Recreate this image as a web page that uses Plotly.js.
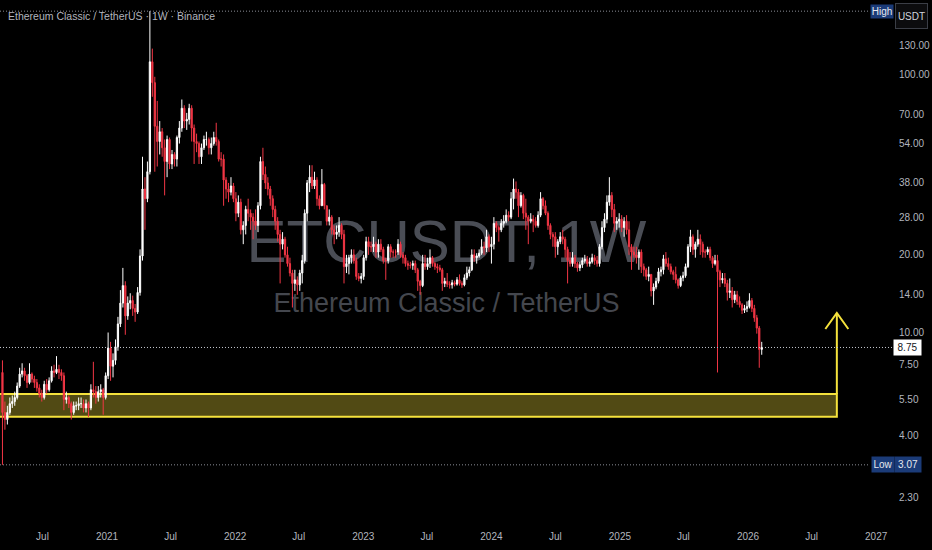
<!DOCTYPE html>
<html>
<head>
<meta charset="utf-8">
<script src="https://cdn.plot.ly/plotly-3.0.1.min.js"></script>
<style>
  html, body { margin: 0; padding: 0; background: #000; }
  #chart { width: 932px; height: 550px; }
</style>
</head>
<body>
<div id="chart"></div>
<script>
// ---- Weekly ETCUSDT candles (Binance), week starts from 2020-03-09 ----
const firstWeek = '2020-03-09';
const firstOpen = 7.0;

const close2020 = [4.9,4.6,4.9,5.3,5.4,5.6,6.2,6.9,7.1,6.8,6.4,6.9,6.6,6.4,6.1,5.8,5.6,6.3,6.0,6.5,7.1,7.0,7.2,7.0,6.8,5.5,5.6,5.3,4.9,5.2,5.2,5.3,5.3,5.1,5.3,5.1,6.0,5.9,5.6,5.9,6.0,5.6,6.8];
const high2020  = [7.8,5.4,5.2,5.6,5.7,5.9,6.4,7.3,7.6,7.3,6.9,7.6,7.0,6.8,6.6,6.3,6.0,6.5,6.6,6.7,7.4,7.5,8.1,7.5,7.2,7.0,5.9,5.7,5.4,5.4,5.4,5.6,5.6,5.5,5.5,5.4,6.3,7.7,6.2,6.2,6.3,6.1,7.0];
const low2020   = [3.07,4.2,4.4,4.8,5.1,5.2,5.5,6.1,6.7,6.5,6.1,6.3,6.4,6.1,5.9,5.6,5.4,5.5,5.8,5.9,6.4,6.7,6.9,6.6,6.5,5.0,5.3,5.1,4.6,4.8,5.0,5.0,5.1,4.9,4.9,4.7,5.0,5.6,5.3,5.4,5.6,4.8,5.5];

const close2021 = [8.7,7.4,7.8,8.8,10.8,13.0,15.2,11.6,13.0,13.3,12.4,12.0,14.3,19.8,36,33,42,112,93,63,55,60,52,46,56,45,49,47,57,62,74,66,67,74,62,55,54,48,52,56,56,52,54,57,55,47,47,39,36,35,37,33];
const high2021  = [10.0,9.2,8.3,9.4,11.5,14.6,17.8,15.8,13.8,14.2,13.9,12.9,15.0,21.0,48,40,46,176,126,98,79,66,62,56,58,57,51,50,58,66,80,76,71,77,76,64,59,55,54,58,60,57,57,60,65,56,50,49,40,38,40,38];
const low2021   = [6.6,6.5,6.7,7.5,8.5,10.5,12.5,9.8,11.2,12.3,11.6,11.0,11.8,13.9,19,25,32,41,82,42,44,49,48,34,40,43,43,44,44,54,60,62,61,64,55,45,50,45,45,51,53,49,49,53,53,46,44,31,33,32,34,32];

const close2022 = [29,32,25,26,30,29,28,27,26,31,46,41,38,36,33,30,27,24,22,23,20,18.5,17,15.5,16,15.3,17,19,29,38,40,37,39,33,31,37.5,31,27,28,25,24,24.5,26,24,18,18.5,19.5,20,19,16.5,16.2,16.5];
const high2022  = [35,34,33,27,31,33,30,29,30,32,48,52,44,40,37,34,31,28,25,24.5,23.5,21.5,19.5,17.5,17.5,16.5,17.5,20,30,39,44.5,44.5,42,40,34,43,38,31,30,28.5,26,26,28,26.5,25,20,20,21,21,19.5,17,17];
const low2022   = [27,28,24,22,24,27,25,23,25,24.5,30,39,36,34,31,28,25,22.5,15.5,21,19.5,18,16.5,12.5,14.5,14,14.5,15.5,18.5,27,35,36,36,31,30,31,30,26,26,24,22,23,23.5,23,15.5,17,16.8,18.5,18.5,16,15.8,15.5];

const close2023 = [19.5,22.5,21.5,21.5,22,20.5,22,21,19,19,21.5,20.5,20.5,20.5,22,20,19.5,18.5,18.2,18.2,18.5,17.5,15.8,15.2,18.5,18,18.5,19.5,18.5,18,17.8,17.5,15.5,15.8,15.4,15.3,15.6,15.4,16,15.5,15.3,16.3,17,17.5,20,19.5,19.8,20.3,21.5,21.3,23.5,21.5];
const high2023  = [20,23.5,23.5,22.5,23.5,22.5,23,23,21.5,19.5,22,22,21,21,23,22.5,20.5,20,19,18.8,19,19,17.8,16,20,20,19.5,21,19.8,18.8,18.5,18.3,17.8,16.3,17,15.8,16,15.9,16.4,16.8,15.8,16.8,18,18,21,21,20.3,21,23,22.5,25,24];
const low2023   = [16,19,20,20.5,20.5,19.5,19.5,20.5,18.5,16,18.5,19.5,19.5,19.5,20,19.5,18.5,18,17.5,17.7,17.5,17,14.5,14,15,17.5,17.5,17.8,18,17.5,17,17.2,14.5,15,15,14.8,14.8,15.1,15.2,15.2,14.9,15.1,16,16.5,17.3,18.8,18.5,19.5,20,20,20.5,20.5];

const close2024 = [22,26.5,25.5,25,26.5,27,28.5,28,33,36,35,31,34,29,28,27,27.5,27,26,28.5,33,31,29,26,24,23.5,21.5,22.5,23.5,23,21,19,18.5,19.5,18.5,17.8,18.3,19,19.2,18.5,18.8,19.5,19,18.5,21.5,25.5,27.5,32,34,30,26.5,27];
const high2024  = [23.5,28,27,26,27.5,28.5,30,29.5,35,39.5,38.5,36,35,34.5,33,28.5,29,28.5,28,29.5,35,33.5,32.5,29.5,26.5,24.5,24.5,23,24.5,25,23.5,21.5,20.5,20.5,20,18.8,18.8,19.5,20,19.8,19.5,20.2,20,19.8,22,27,29,34,40,35,31.5,28];
const low2024   = [18.5,21,24.5,22.5,24.5,25.5,26.5,27,27.5,30,33,28,30.5,27.5,25,22,26.5,24.5,25.5,25.5,28,30,28.5,25,23,21.5,19.5,20,22,22,19.5,15.5,18,18,17.8,17.2,17.3,17.8,18.5,18,18,18.5,18.3,18,18,21,24.5,26.5,31,28,24.5,25];

const close2025 = [27.5,25.5,27,25,21.5,20.5,20,19.5,20.5,18,17.5,16.5,16.8,14.5,15,15.8,17.2,17.5,19.3,18.5,18,17.2,16.8,16,15.2,16.3,16.6,18,21.5,23.5,21,22,23,22,20.5,20.5,21,19.5,18.5,19,17.2,16,16.2,15.5,14.3,14.5,13.4,14,13.2,12.8,12.2,12.4,12.6];
const high2025  = [29,28.5,28,28.5,27,22,21.5,21.5,21,21,18.5,17.8,18,16.8,15.5,16.3,17.8,18,20,20.5,19.5,18.5,17.5,18,16.2,16.6,17.2,18.5,22,25,24,22.5,25,24,22.5,21,21.5,21.5,19.8,20,20,17.5,17,17,16,16.2,15,14.5,14.5,13.8,13,12.8,13.2];
const low2025   = [25.5,24.5,23.5,24,20,17.5,19.5,18.5,17.5,17,16.5,16,15.8,13.8,12.8,14.7,15.5,16.5,16.8,18,17.5,16.8,16,15.5,14.8,15,15.8,16.3,17.8,20.5,20,19.5,21.5,20,19.5,19.5,20,19,17.8,18.2,7.0,15,15.5,15,13.3,13.6,12.5,13,12.8,12.5,11.8,11.9,12];

const close2026 = [13.3,12.4,11.4,10.4,8.6,8.75];
const high2026  = [14.2,13.6,12.8,11.7,10.6,9.2];
const low2026   = [12.4,12,11,9.9,7.3,8.2];

// axis ticks
const xTickVals = ['2020-07-01','2021-01-01','2021-07-01','2022-01-01','2022-07-01','2023-01-01','2023-07-01','2024-01-01','2024-07-01','2025-01-01','2025-07-01','2026-01-01','2026-07-01','2027-01-01'];
const xTickText = ['Jul','2021','Jul','2022','Jul','2023','Jul','2024','Jul','2025','Jul','2026','Jul','2027'];
const yTickVals = [2.3,4,5.5,7.5,10,14,20,28,38,54,70,100,130];
const yTickText = ['2.30','4.00','5.50','7.50','10.00','14.00','20.00','28.00','38.00','54.00','70.00','100.00','130.00'];

// drawing: support zone + target arrow
const zoneLow = 4.72, zoneHigh = 5.78;
const arrowDate = '2026-09-11';
const arrowTarget = 11.9;

// ---- build ----
const closes = [].concat(close2020, close2021, close2022, close2023, close2024, close2025, close2026);
const highs  = [].concat(high2020, high2021, high2022, high2023, high2024, high2025, high2026);
const lows   = [].concat(low2020, low2021, low2022, low2023, low2024, low2025, low2026);
const opens = closes.map((c, i) => i === 0 ? firstOpen : closes[i - 1]);
const t0 = Date.parse(firstWeek + 'T00:00:00Z');
const dates = closes.map((c, i) => new Date(t0 + i * 7 * 86400000).toISOString().slice(0, 10));

const lastClose = closes[closes.length - 1];
const maxHigh = Math.max.apply(null, highs);
const minLow = Math.min.apply(null, lows);

const FONT = "'Liberation Sans', Arial, sans-serif";
const PLOT_W = 893, PLOT_H = 524;
const px = v => v / PLOT_W;
const py = v => 1 - v / PLOT_H;
const L = Math.log10;

const trace = {
  type: 'candlestick',
  x: dates, open: opens, high: highs, low: lows, close: closes,
  increasing: { line: { color: '#ffffff', width: 1 }, fillcolor: '#ffffff' },
  decreasing: { line: { color: '#f23645', width: 1 }, fillcolor: '#f23645' },
  whiskerwidth: 0,
  hoverinfo: 'skip',
  showlegend: false
};

const AX_FONT = { family: FONT, size: 10, color: '#b2b5be' };
const YEL = '#f5e23c';
const DOTS = '1px,2px';

const shapes = [
  // watermark (below candles)
  { type: 'rect', xref: 'paper', yref: 'paper', x0: 0, x1: 1, y0: py(262), y1: py(208), layer: 'below',
    line: { width: 0 }, fillcolor: 'rgba(0,0,0,0)',
    label: { text: 'ETCUSDT, 1W', textposition: 'middle center', font: { family: FONT, size: 60, color: '#4a4d55' } } },
  { type: 'rect', xref: 'paper', yref: 'paper', x0: 0, x1: 1, y0: py(312), y1: py(288), layer: 'below',
    line: { width: 0 }, fillcolor: 'rgba(0,0,0,0)',
    label: { text: 'Ethereum Classic / TetherUS', textposition: 'middle center', font: { family: FONT, size: 27, color: '#44474e' } } },
  // zone box
  { type: 'rect', xref: 'x', yref: 'y', x0: '2020-01-01', x1: arrowDate, y0: zoneLow, y1: zoneHigh, layer: 'below',
    fillcolor: 'rgba(245,226,60,0.33)', line: { color: YEL, width: 2 } },
  // arrow shaft
  { type: 'line', xref: 'x', yref: 'y', x0: arrowDate, x1: arrowDate, y0: zoneHigh, y1: arrowTarget,
    line: { color: YEL, width: 2 } },
  // arrow head
  { type: 'path', xref: 'x', yref: 'y', xsizemode: 'pixel', ysizemode: 'pixel', xanchor: arrowDate, yanchor: arrowTarget,
    path: 'M-11.5,-16L0,0L11.5,-16', line: { color: YEL, width: 2 } },
  // dotted price lines
  { type: 'line', xref: 'paper', yref: 'y', x0: 0, x1: px(870), y0: maxHigh, y1: maxHigh,
    line: { color: '#8a8d96', width: 1, dash: DOTS } },
  { type: 'line', xref: 'paper', yref: 'y', x0: 0, x1: px(870), y0: minLow, y1: minLow,
    line: { color: '#8a8d96', width: 1, dash: DOTS } },
  { type: 'line', xref: 'paper', yref: 'y', x0: 0, x1: 1, y0: lastClose, y1: lastClose,
    line: { color: '#c4c7ce', width: 1, dash: DOTS } }
];

const annotations = [
  { xref: 'paper', yref: 'paper', x: px(6), y: py(16), xanchor: 'left', yanchor: 'middle', showarrow: false,
    text: 'Ethereum Classic / TetherUS · 1W · Binance', font: { family: FONT, size: 10.5, color: '#b2b5be' } },
  { xref: 'paper', yref: 'y', x: px(870), y: L(maxHigh), xanchor: 'left', yanchor: 'middle', showarrow: false,
    text: 'High', width: 22, height: 13, borderpad: 0, bgcolor: '#1b3b78', font: { family: FONT, size: 10, color: '#e6e8ee' } },
  { xref: 'paper', yref: 'paper', x: px(895), y: py(16), xanchor: 'left', yanchor: 'middle', showarrow: false,
    text: 'USDT', width: 31, height: 24, borderpad: 0, bgcolor: '#0c0c0e', bordercolor: '#3b3e46', borderwidth: 1,
    font: { family: FONT, size: 10, color: '#d1d4dc' } },
  { xref: 'paper', yref: 'y', x: px(893), y: L(lastClose), xanchor: 'left', yanchor: 'middle', showarrow: false,
    text: lastClose.toFixed(2), width: 27, height: 15, borderpad: 0, bgcolor: '#ffffff', font: { family: FONT, size: 10, color: '#131722' } },
  { xref: 'paper', yref: 'y', x: px(871), y: L(minLow), xanchor: 'left', yanchor: 'middle', showarrow: false,
    text: 'Low', width: 22, height: 15, borderpad: 0, bgcolor: '#1b3b78', font: { family: FONT, size: 10, color: '#e6e8ee' } },
  { xref: 'paper', yref: 'y', x: px(894), y: L(minLow), xanchor: 'left', yanchor: 'middle', showarrow: false,
    text: minLow.toFixed(2), width: 26, height: 15, borderpad: 0, bgcolor: '#1b3b78', font: { family: FONT, size: 10, color: '#e6e8ee' } }
];

if (opens.length !== highs.length || highs.length !== lows.length) {
  annotations.push({ xref: 'paper', yref: 'paper', x: 0.5, y: 0.5, showarrow: false,
    text: 'LEN ' + closes.length + ' ' + highs.length + ' ' + lows.length, font: { size: 30, color: '#0f0' } });
}

const layout = {
  width: 932, height: 550,
  margin: { l: 0, r: 39, t: 0, b: 26, pad: 0 },
  paper_bgcolor: '#000000', plot_bgcolor: '#000000',
  showlegend: false,
  xaxis: {
    type: 'date', range: ['2020-03-02', '2027-02-18'],
    tickmode: 'array', tickvals: xTickVals, ticktext: xTickText,
    tickfont: AX_FONT, showgrid: false, zeroline: false, showline: false, ticks: '',
    ticklabelstandoff: 5,
    rangeslider: { visible: false }, fixedrange: true
  },
  yaxis: {
    type: 'log', range: [0.2578, 2.2888], side: 'right',
    tickmode: 'array', tickvals: yTickVals, ticktext: yTickText,
    tickfont: AX_FONT, showgrid: false, zeroline: false, showline: false, ticks: '',
    ticklabelstandoff: 5, fixedrange: true
  },
  shapes: shapes,
  annotations: annotations
};

Plotly.newPlot('chart', [trace], layout, { staticPlot: true, displayModeBar: false });
</script>
</body>
</html>
